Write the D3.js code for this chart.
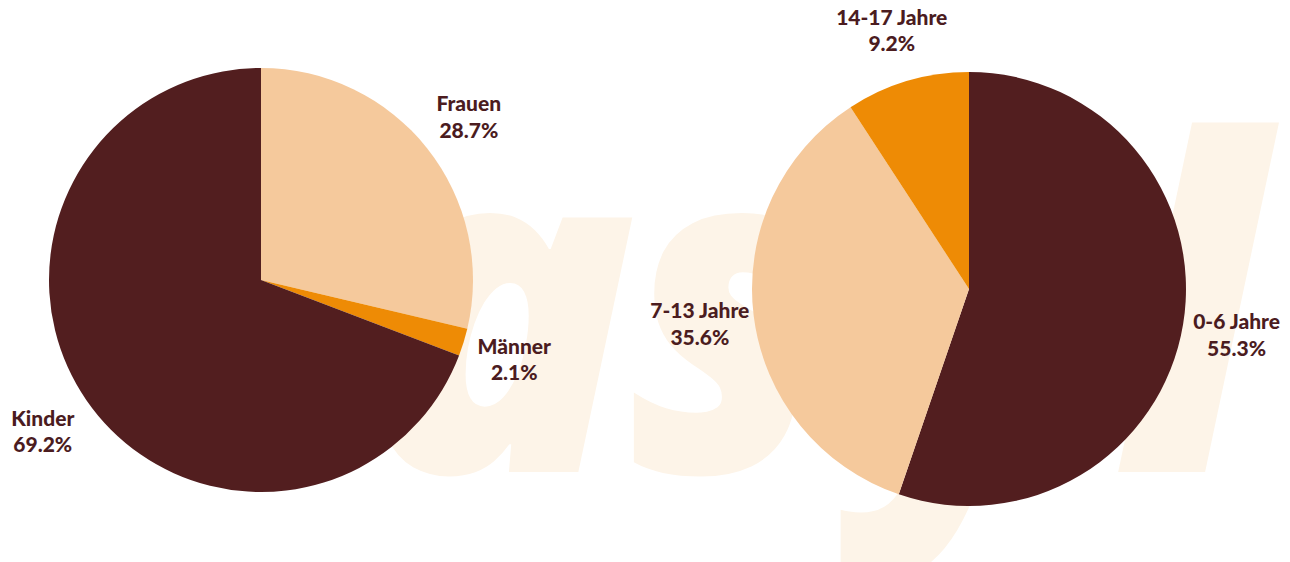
<!DOCTYPE html>
<html>
<head>
<meta charset="utf-8">
<script src="https://cdn.jsdelivr.net/npm/d3@7"></script>
<style>
  body { margin: 0; background: #fff; }
  svg { display: block; }
  .lbl { font-family: Lato, "Open Sans", sans-serif; font-weight: 900; font-size: 21px; fill: #4b1c1f; }
  .wm { font-family: "Open Sans", sans-serif; font-weight: 800; font-style: italic; font-size: 460px; fill: #fdf4e8; }
</style>
</head>
<body>
<svg id="chart" width="1290" height="562"></svg>
<script>
// left pie: gender split
const genderLabels = ["Frauen", "Männer", "Kinder"];
const genderValues = [28.7, 2.1, 69.2];
// right pie: age groups of children
const ageLabels = ["0-6 Jahre", "7-13 Jahre", "14-17 Jahre"];
const ageValues = [55.3, 35.6, 9.2];

const colorsLeft = ["#f5c99c", "#ee8b05", "#521e1f"];
const colorsRight = ["#521e1f", "#f5c99c", "#ee8b05"];

const svg = d3.select("#chart");

// faint "asyl" watermark behind the pies, letters set one by one
const wmLetters = [["a", 358, 1.0], ["s", 628, 0.84], ["y", 865, 0.84], ["l", 1113, 1.0]];
svg.selectAll("text.wm")
  .data(wmLetters)
  .enter().append("text")
    .attr("class", "wm")
    .attr("transform", d => "translate(" + d[1] + ",472) scale(" + d[2] + ",1)")
    .text(d => d[0]);

function drawPie(cx, cy, r, labels, values, colors) {
  const data = labels.map((l, i) => ({ label: l, value: values[i], color: colors[i] }));
  const pie = d3.pie().sort(null).value(d => d.value);
  const arc = d3.arc().innerRadius(0).outerRadius(r);
  const labelArc = d3.arc().innerRadius(r * 1.25).outerRadius(r * 1.25);

  const g = svg.append("g").attr("transform", "translate(" + cx + "," + cy + ")");
  const arcs = pie(data);

  g.selectAll("path")
    .data(arcs)
    .enter().append("path")
      .attr("d", arc)
      .attr("fill", d => d.data.color);

  const t = g.selectAll("text")
    .data(arcs)
    .enter().append("text")
      .attr("class", "lbl")
      .attr("text-anchor", "middle")
      .attr("transform", d => "translate(" + labelArc.centroid(d) + ")");

  t.append("tspan").attr("x", 0).attr("dy", "-0.2em").text(d => d.data.label);
  t.append("tspan").attr("x", 0).attr("dy", "1.25em").text(d => d.data.value.toFixed(1) + "%");
}

drawPie(261, 280, 212, genderLabels, genderValues, colorsLeft);
drawPie(969, 289, 217, ageLabels, ageValues, colorsRight);
</script>
</body>
</html>
